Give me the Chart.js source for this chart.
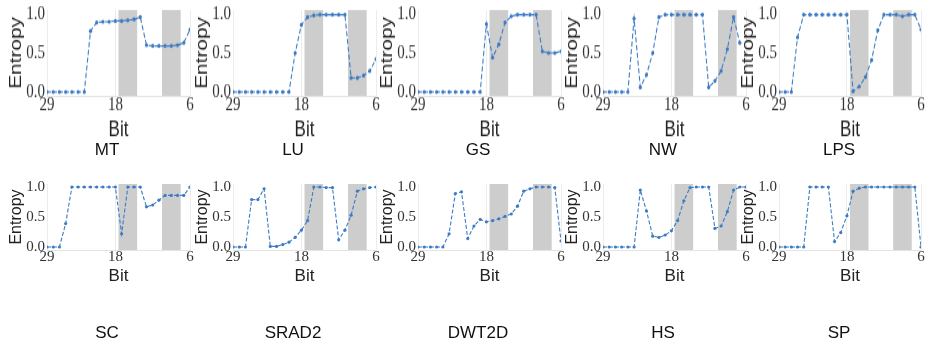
<!DOCTYPE html>
<html>
<head>
<meta charset="utf-8">
<script src="https://cdn.jsdelivr.net/npm/chart.js@4.4.1/dist/chart.umd.min.js"></script>
<style>
  html, body { margin: 0; padding: 0; background: #fff; width: 927px; height: 343px; overflow: hidden; position: relative; }
  canvas { position: absolute; }
  .cap { position: absolute; width: 120px; margin-left: -60px; text-align: center; line-height: 20px;
         font: 17px "Liberation Sans", Arial, sans-serif; color: #111; }
</style>
</head>
<body>
<script>
// bits on the x axis (read right to left, 29 down to 6)
const bits   = [29, 28, 27, 26, 25, 24, 23, 22, 21, 20, 19, 18, 17, 16, 15, 14, 13, 12, 11, 10, 9, 8, 7, 6];
const xTicks = [29, 18, 6];
const yTicks = [0, 0.5, 1.0];
// shaded bit ranges
const bands  = [[17.5, 14.5], [10.5, 7.5]];

const names = ['MT', 'LU', 'GS', 'NW', 'LPS', 'SC', 'SRAD2', 'DWT2D', 'HS', 'SP'];

// entropy per bit, one array per benchmark
const mt    = [0, 0, 0, 0, 0, 0, 0, 0.78, 0.89, 0.9, 0.9, 0.91, 0.91, 0.92, 0.93, 0.96, 0.6, 0.59, 0.59, 0.59, 0.59, 0.6, 0.63, 0.8];
const lu    = [0, 0, 0, 0, 0, 0, 0, 0, 0, 0, 0.5, 0.86, 0.96, 0.98, 0.99, 0.99, 0.99, 0.99, 0.99, 0.18, 0.18, 0.21, 0.27, 0.42];
const gs    = [0, 0, 0, 0, 0, 0, 0, 0, 0, 0, 0, 0.87, 0.44, 0.61, 0.89, 0.97, 0.99, 0.99, 0.99, 0.99, 0.52, 0.5, 0.5, 0.52];
const nw    = [0, 0, 0, 0, 0, 0.94, 0.06, 0.22, 0.5, 0.96, 0.99, 0.99, 0.99, 0.99, 0.99, 0.99, 0.99, 0.06, 0.14, 0.27, 0.55, 0.96, 0.63, null];
const lps   = [0, 0, 0, 0.7, 0.99, 0.99, 0.99, 0.99, 0.99, 0.99, 0.99, 0.99, 0.01, 0.07, 0.19, 0.41, 0.79, 0.99, 0.99, 0.99, 0.97, 0.99, 0.99, 0.8];
const sc    = [0, 0, 0, 0.39, 1, 1, 1, 1, 1, 1, 1, 1, 0.22, 1, 1, 1, 0.67, 0.7, 0.78, 0.86, 0.86, 0.86, 0.86, 1];
const srad2 = [0, 0, 0, 0.79, 0.79, 0.97, 0.01, 0.01, 0.04, 0.08, 0.16, 0.28, 0.44, 1, 1, 0.99, 0.99, 0.12, 0.28, 0.53, 0.93, 0.97, 0.99, 1];
const dwt2d = [0, 0, 0, 0, 0, 0.22, 0.89, 0.92, 0.14, 0.35, 0.46, 0.42, 0.44, 0.47, 0.51, 0.55, 0.68, 0.93, 0.97, 1, 1, 1, 0.99, 0.1];
const hs    = [0, 0, 0, 0, 0, 0, 0.95, 0.6, 0.18, 0.16, 0.2, 0.27, 0.44, 0.77, 0.99, 1, 1, 1, 0.31, 0.35, 0.59, 0.95, 1, 1];
const sp    = [0, 0, 0, 0, 0, 1, 1, 1, 1, 0.09, 0.24, 0.52, 0.93, 0.98, 1, 1, 1, 1, 1, 1, 1, 1, 1, 0];

const series = [mt, lu, gs, nw, lps, sc, srad2, dwt2d, hs, sp];

// panel layout (pixel x of bit 29 and plot width per column)
const plotLeft = [47, 233, 418, 603, 779];
const plotW    = [143, 143, 143, 143, 142];
const yAxisW = 40, padR = 8, canvasH = 113;

const blue = '#3d7cc4';

// grey bands behind the lines
const bandPlugin = {
  id: 'bands',
  beforeDatasetsDraw(chart) {
    const { ctx, chartArea, scales } = chart;
    ctx.save();
    ctx.fillStyle = '#cdcdcd';
    bands.forEach(([a, b]) => {
      const x1 = scales.x.getPixelForValue(a);
      const x2 = scales.x.getPixelForValue(b);
      ctx.fillRect(Math.min(x1, x2), chartArea.top, Math.abs(x2 - x1), chartArea.bottom - chartArea.top);
    });
    ctx.restore();
  }
};

names.forEach((name, i) => {
  const row = Math.floor(i / 5), col = i % 5;
  const w = yAxisW + plotW[col] + padR;
  const cv = document.createElement('canvas');
  cv.width = w; cv.height = canvasH;
  cv.style.width = w + 'px'; cv.style.height = canvasH + 'px';
  cv.style.left = (plotLeft[col] - yAxisW) + 'px';
  cv.style.top = (row === 0 ? -3 : 174) + 'px';
  if (row === 0) { // top row of the source figure is stretched vertically
    cv.style.transform = 'scaleY(1.3)';
    cv.style.transformOrigin = '0 0';
  }
  document.body.appendChild(cv);

  new Chart(cv, {
    type: 'line',
    data: {
      datasets: [{
        data: bits.map((b, k) => ({ x: b, y: series[i][k] })),
        borderColor: blue,
        backgroundColor: blue,
        borderWidth: 1.1,
        borderDash: [4, 2],
        pointRadius: 1.6,
        pointBorderWidth: 0,
        tension: 0,
        spanGaps: false
      }]
    },
    options: {
      responsive: false,
      animation: false,
      devicePixelRatio: 1,
      layout: { padding: { top: 10, right: padR, left: 0, bottom: 0 } },
      plugins: { legend: { display: false }, tooltip: { enabled: false } },
      scales: {
        x: {
          type: 'linear', min: 6, max: 29, reverse: true,
          afterBuildTicks: s => { s.ticks = xTicks.map(v => ({ value: v })); },
          afterFit: s => { s.height = 37; },
          ticks: { autoSkip: false, maxRotation: 0, padding: 0, color: '#333',
                   font: { family: '"Liberation Serif", "Times New Roman", serif', size: 15, lineHeight: 1 },
                   callback: v => String(v) },
          grid: { color: '#ececec', drawTicks: false },
          border: { color: '#e4e4e4' },
          title: { display: true, text: 'Bit', color: '#222', padding: 0,
                   font: { family: '"Liberation Sans", Arial, sans-serif', size: 17 } }
        },
        y: {
          min: -0.05, max: 1.05,
          afterBuildTicks: s => { s.ticks = yTicks.map(v => ({ value: v })); },
          afterFit: s => { s.width = yAxisW; },
          ticks: { padding: 2, color: '#333',
                   font: { family: '"Liberation Serif", "Times New Roman", serif', size: 15, lineHeight: 1 },
                   callback: v => v.toFixed(1) },
          grid: { display: false, drawTicks: false },
          border: { display: false },
          title: { display: true, text: 'Entropy', color: '#222', padding: 0,
                   font: { family: '"Liberation Sans", Arial, sans-serif', size: 16 } }
        }
      }
    },
    plugins: [bandPlugin]
  });

  const cap = document.createElement('div');
  cap.className = 'cap';
  cap.textContent = name;
  cap.style.left = (plotLeft[col] + 60) + 'px';
  cap.style.top = (row === 0 ? 140 : 323) + 'px';
  document.body.appendChild(cap);
});
</script>
</body>
</html>
